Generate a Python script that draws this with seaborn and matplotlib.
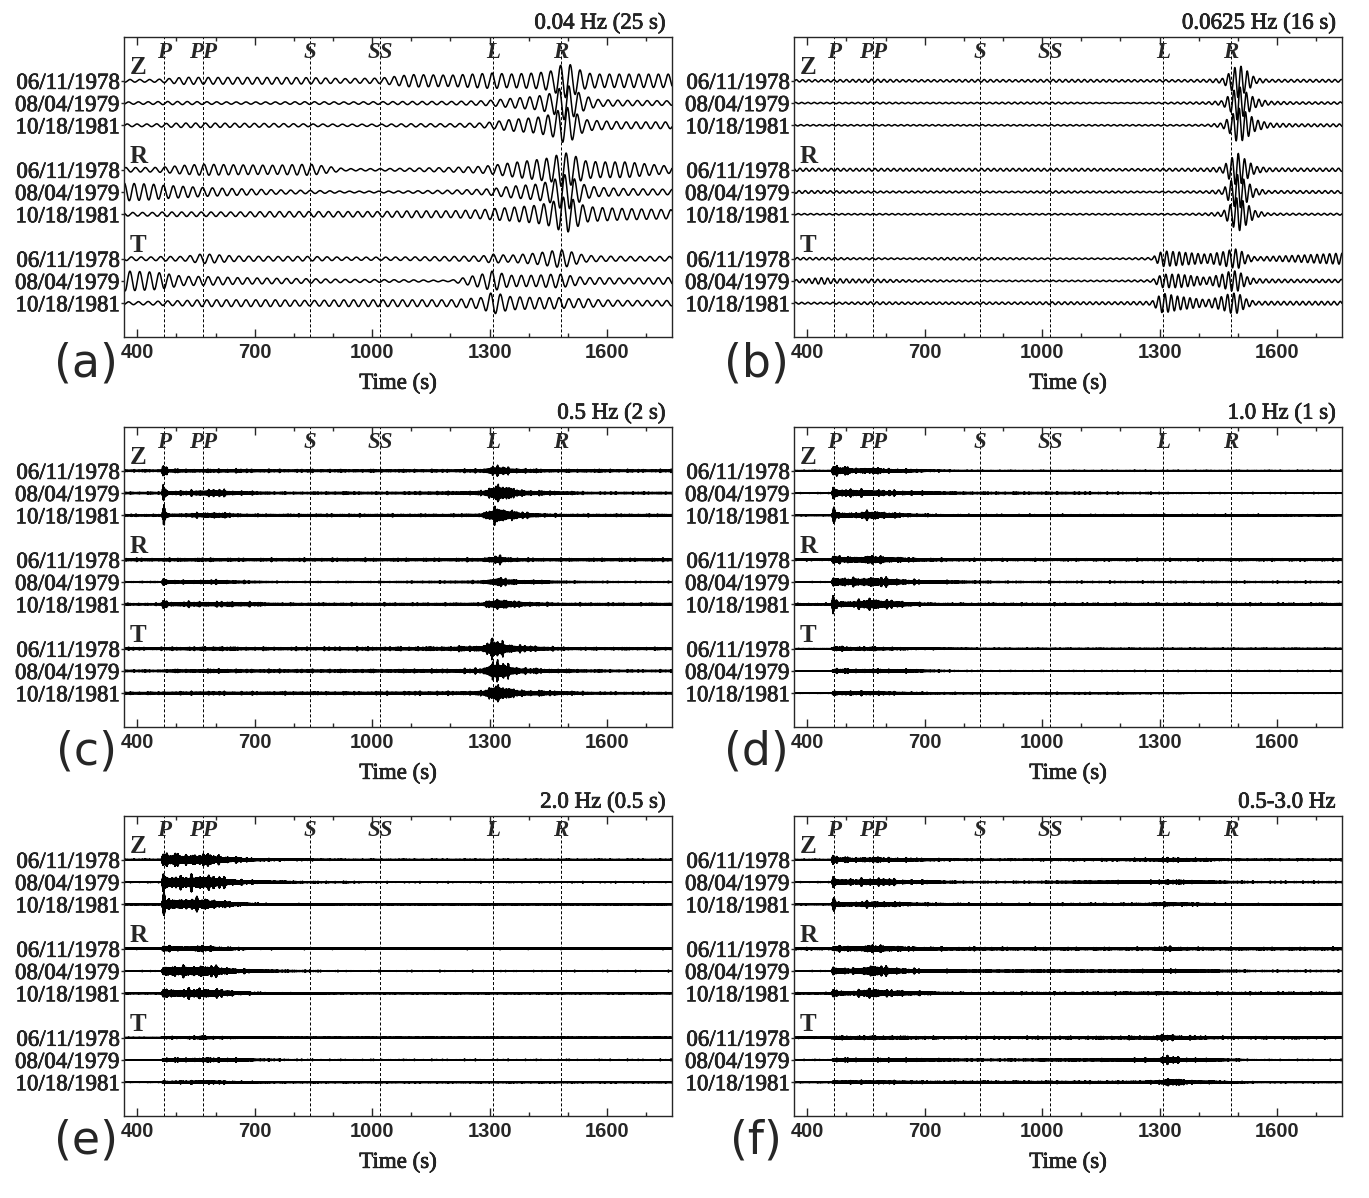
import numpy as np
import pandas as pd
import seaborn as sns
import matplotlib.pyplot as plt
import matplotlib.patheffects as pe
import matplotlib.transforms as mtransforms
from matplotlib.ticker import MultipleLocator

sns.set_style("ticks")
plt.rcParams['font.family'] = ['Liberation Serif', 'DejaVu Serif']

# labels and layout data
dates = ["06/11/1978", "08/04/1979", "10/18/1981"]
components = ["Z", "R", "T"]
phases = ["P", "PP", "S", "SS", "L", "R"]
phase_times = [467, 568, 841, 1021, 1308, 1482]
titles = ["0.04 Hz (25 s)", "0.0625 Hz (16 s)", "0.5 Hz (2 s)",
          "1.0 Hz (1 s)", "2.0 Hz (0.5 s)", "0.5-3.0 Hz"]
letters = ["(a)", "(b)", "(c)", "(d)", "(e)", "(f)"]
band_hz = [0.04, 0.0625, 0.5, 1.0, 2.0, 1.3]
offsets = [0, -1, -2, -4, -5, -6, -8, -9, -10]

# envelope knots (s)
knots_low = [365, 440, 466, 520, 568, 650, 750, 841, 930, 1021, 1100, 1200,
             1280, 1308, 1350, 1420, 1460, 1482, 1500, 1520, 1545, 1580, 1650, 1766]
knots_high = [365, 462, 466, 470, 480, 520, 568, 600, 650, 700, 760, 841, 930,
              1021, 1100, 1200, 1280, 1305, 1320, 1345, 1380, 1440, 1482, 1550, 1650, 1766]

# envelope amplitudes, rows: Z x3, R x3, T x3 (trace spacing = 1)
env_a = [
    [0.06, 0.06, 0.08, 0.16, 0.15, 0.15, 0.15, 0.14, 0.10, 0.12, 0.28, 0.25, 0.32, 0.35, 0.30, 0.35, 0.45, 0.70, 0.78, 0.60, 0.35, 0.30, 0.30, 0.30],
    [0.05, 0.06, 0.07, 0.07, 0.06, 0.05, 0.05, 0.06, 0.05, 0.06, 0.07, 0.07, 0.10, 0.13, 0.20, 0.30, 0.45, 0.70, 0.80, 0.55, 0.30, 0.15, 0.12, 0.10],
    [0.06, 0.06, 0.08, 0.10, 0.10, 0.09, 0.08, 0.06, 0.05, 0.05, 0.07, 0.07, 0.10, 0.15, 0.25, 0.35, 0.50, 0.75, 0.80, 0.55, 0.25, 0.20, 0.15, 0.15],
    [0.10, 0.10, 0.12, 0.20, 0.25, 0.22, 0.20, 0.25, 0.05, 0.05, 0.07, 0.10, 0.15, 0.20, 0.30, 0.45, 0.55, 0.75, 0.75, 0.60, 0.40, 0.35, 0.35, 0.15],
    [0.40, 0.35, 0.30, 0.25, 0.20, 0.15, 0.10, 0.07, 0.04, 0.04, 0.05, 0.08, 0.12, 0.15, 0.25, 0.35, 0.50, 0.75, 0.80, 0.55, 0.30, 0.20, 0.15, 0.12],
    [0.08, 0.08, 0.10, 0.10, 0.10, 0.10, 0.12, 0.12, 0.12, 0.12, 0.15, 0.15, 0.20, 0.25, 0.30, 0.40, 0.55, 0.75, 0.80, 0.60, 0.35, 0.30, 0.25, 0.20],
    [0.08, 0.08, 0.10, 0.10, 0.22, 0.12, 0.10, 0.10, 0.07, 0.07, 0.08, 0.10, 0.12, 0.20, 0.15, 0.25, 0.35, 0.40, 0.35, 0.25, 0.15, 0.12, 0.10, 0.10],
    [0.45, 0.40, 0.35, 0.20, 0.20, 0.15, 0.12, 0.10, 0.07, 0.06, 0.05, 0.03, 0.30, 0.45, 0.25, 0.25, 0.30, 0.30, 0.25, 0.20, 0.15, 0.15, 0.12, 0.15],
    [0.06, 0.08, 0.10, 0.12, 0.15, 0.15, 0.15, 0.12, 0.15, 0.15, 0.15, 0.15, 0.25, 0.50, 0.30, 0.25, 0.25, 0.25, 0.20, 0.20, 0.20, 0.15, 0.12, 0.12],
]
env_b = [
    [0.05, 0.05, 0.05, 0.06, 0.07, 0.05, 0.05, 0.06, 0.05, 0.06, 0.06, 0.05, 0.05, 0.05, 0.05, 0.06, 0.10, 0.40, 0.75, 0.50, 0.12, 0.06, 0.06, 0.06],
    [0.03, 0.03, 0.03, 0.03, 0.04, 0.03, 0.03, 0.03, 0.04, 0.04, 0.03, 0.02, 0.03, 0.03, 0.04, 0.05, 0.10, 0.40, 0.80, 0.50, 0.20, 0.08, 0.05, 0.05],
    [0.03, 0.03, 0.03, 0.03, 0.03, 0.03, 0.03, 0.03, 0.03, 0.03, 0.03, 0.03, 0.03, 0.03, 0.03, 0.04, 0.10, 0.40, 0.80, 0.60, 0.25, 0.10, 0.06, 0.06],
    [0.07, 0.06, 0.06, 0.06, 0.06, 0.06, 0.06, 0.06, 0.06, 0.06, 0.06, 0.05, 0.05, 0.06, 0.06, 0.07, 0.12, 0.50, 0.75, 0.45, 0.15, 0.08, 0.07, 0.07],
    [0.06, 0.06, 0.05, 0.05, 0.04, 0.04, 0.04, 0.04, 0.03, 0.05, 0.04, 0.04, 0.03, 0.03, 0.04, 0.05, 0.10, 0.50, 0.80, 0.50, 0.15, 0.06, 0.06, 0.06],
    [0.03, 0.03, 0.03, 0.03, 0.03, 0.03, 0.03, 0.03, 0.03, 0.03, 0.03, 0.03, 0.03, 0.03, 0.03, 0.05, 0.10, 0.45, 0.80, 0.50, 0.15, 0.05, 0.04, 0.04],
    [0.05, 0.05, 0.05, 0.04, 0.04, 0.03, 0.05, 0.05, 0.04, 0.03, 0.03, 0.03, 0.05, 0.35, 0.30, 0.20, 0.30, 0.40, 0.45, 0.20, 0.08, 0.10, 0.15, 0.25],
    [0.05, 0.15, 0.10, 0.08, 0.08, 0.05, 0.04, 0.03, 0.03, 0.03, 0.03, 0.03, 0.05, 0.30, 0.30, 0.15, 0.30, 0.45, 0.45, 0.20, 0.10, 0.08, 0.07, 0.07],
    [0.04, 0.04, 0.04, 0.05, 0.06, 0.05, 0.05, 0.05, 0.05, 0.06, 0.06, 0.06, 0.08, 0.45, 0.30, 0.15, 0.30, 0.45, 0.45, 0.20, 0.08, 0.08, 0.08, 0.08],
]
env_c = [
    [0.05, 0.05, 0.45, 0.30, 0.08, 0.08, 0.07, 0.08, 0.08, 0.07, 0.06, 0.06, 0.06, 0.06, 0.06, 0.06, 0.08, 0.20, 0.25, 0.15, 0.10, 0.07, 0.06, 0.07, 0.06, 0.06],
    [0.05, 0.05, 0.45, 0.30, 0.10, 0.10, 0.15, 0.18, 0.10, 0.07, 0.05, 0.05, 0.06, 0.05, 0.06, 0.07, 0.10, 0.30, 0.50, 0.30, 0.15, 0.10, 0.08, 0.05, 0.05, 0.05],
    [0.05, 0.05, 0.45, 0.30, 0.08, 0.08, 0.12, 0.15, 0.08, 0.06, 0.06, 0.06, 0.06, 0.06, 0.06, 0.06, 0.08, 0.30, 0.45, 0.30, 0.15, 0.08, 0.06, 0.06, 0.06, 0.06],
    [0.07, 0.07, 0.10, 0.08, 0.07, 0.08, 0.08, 0.08, 0.07, 0.07, 0.07, 0.07, 0.07, 0.07, 0.07, 0.07, 0.08, 0.15, 0.20, 0.12, 0.08, 0.07, 0.07, 0.07, 0.07, 0.07],
    [0.03, 0.03, 0.30, 0.20, 0.08, 0.08, 0.10, 0.10, 0.07, 0.05, 0.03, 0.03, 0.03, 0.03, 0.04, 0.05, 0.06, 0.15, 0.25, 0.15, 0.10, 0.08, 0.05, 0.04, 0.03, 0.03],
    [0.05, 0.05, 0.35, 0.25, 0.10, 0.12, 0.12, 0.12, 0.12, 0.10, 0.06, 0.06, 0.06, 0.06, 0.06, 0.06, 0.07, 0.20, 0.30, 0.20, 0.12, 0.08, 0.06, 0.06, 0.06, 0.06],
    [0.06, 0.06, 0.06, 0.06, 0.07, 0.08, 0.08, 0.10, 0.08, 0.07, 0.07, 0.07, 0.08, 0.08, 0.09, 0.10, 0.15, 0.40, 0.45, 0.25, 0.15, 0.10, 0.07, 0.06, 0.06, 0.06],
    [0.05, 0.05, 0.06, 0.06, 0.07, 0.07, 0.08, 0.10, 0.07, 0.07, 0.07, 0.07, 0.07, 0.07, 0.08, 0.08, 0.12, 0.40, 0.50, 0.30, 0.15, 0.10, 0.08, 0.06, 0.05, 0.05],
    [0.06, 0.06, 0.06, 0.06, 0.07, 0.07, 0.08, 0.08, 0.07, 0.07, 0.07, 0.07, 0.07, 0.07, 0.08, 0.08, 0.10, 0.35, 0.50, 0.25, 0.15, 0.12, 0.10, 0.06, 0.05, 0.05],
]
env_d = [
    [0.02, 0.02, 0.35, 0.30, 0.22, 0.12, 0.15, 0.10, 0.08, 0.05, 0.03, 0.02, 0.02, 0.02, 0.02, 0.02, 0.02, 0.02, 0.02, 0.02, 0.02, 0.02, 0.02, 0.02, 0.02, 0.02],
    [0.02, 0.02, 0.30, 0.25, 0.20, 0.15, 0.15, 0.12, 0.10, 0.07, 0.05, 0.04, 0.04, 0.04, 0.04, 0.03, 0.03, 0.03, 0.03, 0.02, 0.02, 0.02, 0.02, 0.02, 0.02, 0.02],
    [0.02, 0.02, 0.35, 0.25, 0.15, 0.12, 0.22, 0.15, 0.08, 0.06, 0.04, 0.04, 0.04, 0.04, 0.04, 0.04, 0.04, 0.04, 0.04, 0.04, 0.04, 0.04, 0.04, 0.04, 0.03, 0.03],
    [0.04, 0.04, 0.30, 0.20, 0.15, 0.15, 0.20, 0.15, 0.10, 0.07, 0.06, 0.05, 0.05, 0.05, 0.05, 0.05, 0.05, 0.05, 0.05, 0.05, 0.05, 0.05, 0.05, 0.05, 0.05, 0.05],
    [0.02, 0.02, 0.35, 0.25, 0.20, 0.18, 0.25, 0.20, 0.12, 0.08, 0.06, 0.04, 0.03, 0.03, 0.03, 0.03, 0.03, 0.03, 0.03, 0.03, 0.03, 0.03, 0.03, 0.03, 0.03, 0.03],
    [0.04, 0.04, 0.80, 0.30, 0.15, 0.15, 0.30, 0.20, 0.12, 0.06, 0.05, 0.05, 0.05, 0.05, 0.05, 0.05, 0.05, 0.05, 0.05, 0.05, 0.05, 0.05, 0.05, 0.05, 0.05, 0.05],
    [0.01, 0.01, 0.10, 0.12, 0.10, 0.08, 0.08, 0.07, 0.05, 0.04, 0.03, 0.02, 0.02, 0.02, 0.02, 0.02, 0.02, 0.02, 0.02, 0.02, 0.02, 0.02, 0.02, 0.02, 0.02, 0.02],
    [0.01, 0.01, 0.10, 0.12, 0.12, 0.08, 0.10, 0.07, 0.08, 0.05, 0.03, 0.02, 0.02, 0.02, 0.02, 0.02, 0.02, 0.02, 0.02, 0.02, 0.02, 0.02, 0.02, 0.02, 0.02, 0.02],
    [0.01, 0.01, 0.08, 0.12, 0.10, 0.08, 0.10, 0.07, 0.05, 0.04, 0.03, 0.03, 0.03, 0.03, 0.03, 0.03, 0.02, 0.02, 0.02, 0.02, 0.01, 0.01, 0.01, 0.01, 0.01, 0.01],
]
env_e = [
    [0.02, 0.02, 0.50, 0.35, 0.30, 0.25, 0.30, 0.22, 0.12, 0.06, 0.04, 0.03, 0.02, 0.02, 0.02, 0.02, 0.02, 0.02, 0.02, 0.02, 0.02, 0.02, 0.02, 0.02, 0.02, 0.02],
    [0.02, 0.02, 0.50, 0.40, 0.35, 0.30, 0.40, 0.30, 0.15, 0.07, 0.05, 0.03, 0.03, 0.02, 0.02, 0.02, 0.02, 0.02, 0.02, 0.02, 0.02, 0.02, 0.02, 0.02, 0.02, 0.02],
    [0.02, 0.02, 0.50, 0.35, 0.30, 0.25, 0.30, 0.20, 0.10, 0.05, 0.03, 0.03, 0.02, 0.02, 0.02, 0.02, 0.02, 0.02, 0.02, 0.02, 0.02, 0.02, 0.02, 0.02, 0.02, 0.02],
    [0.03, 0.03, 0.20, 0.15, 0.12, 0.10, 0.15, 0.10, 0.06, 0.04, 0.03, 0.03, 0.03, 0.03, 0.03, 0.03, 0.03, 0.03, 0.03, 0.03, 0.03, 0.03, 0.03, 0.03, 0.03, 0.03],
    [0.02, 0.02, 0.30, 0.28, 0.25, 0.25, 0.30, 0.25, 0.12, 0.06, 0.04, 0.03, 0.02, 0.02, 0.02, 0.02, 0.02, 0.02, 0.02, 0.02, 0.02, 0.02, 0.02, 0.02, 0.02, 0.02],
    [0.02, 0.02, 0.30, 0.25, 0.20, 0.20, 0.25, 0.20, 0.10, 0.05, 0.03, 0.03, 0.02, 0.02, 0.02, 0.02, 0.02, 0.02, 0.02, 0.02, 0.02, 0.02, 0.02, 0.02, 0.02, 0.02],
    [0.01, 0.01, 0.06, 0.06, 0.05, 0.05, 0.08, 0.06, 0.04, 0.03, 0.02, 0.02, 0.02, 0.02, 0.02, 0.02, 0.02, 0.02, 0.02, 0.02, 0.02, 0.02, 0.02, 0.02, 0.02, 0.02],
    [0.01, 0.01, 0.08, 0.08, 0.08, 0.08, 0.10, 0.10, 0.08, 0.04, 0.03, 0.02, 0.02, 0.02, 0.02, 0.02, 0.02, 0.02, 0.02, 0.02, 0.02, 0.02, 0.02, 0.02, 0.02, 0.02],
    [0.01, 0.01, 0.06, 0.06, 0.06, 0.06, 0.08, 0.07, 0.05, 0.03, 0.02, 0.02, 0.02, 0.02, 0.02, 0.02, 0.02, 0.02, 0.02, 0.02, 0.02, 0.02, 0.02, 0.02, 0.02, 0.02],
]
env_f = [
    [0.02, 0.02, 0.40, 0.20, 0.12, 0.10, 0.12, 0.10, 0.08, 0.06, 0.04, 0.03, 0.03, 0.04, 0.04, 0.05, 0.06, 0.08, 0.10, 0.08, 0.07, 0.05, 0.03, 0.03, 0.03, 0.03],
    [0.02, 0.02, 0.30, 0.20, 0.15, 0.12, 0.20, 0.15, 0.10, 0.08, 0.04, 0.03, 0.03, 0.04, 0.05, 0.06, 0.07, 0.10, 0.12, 0.10, 0.07, 0.05, 0.04, 0.03, 0.03, 0.03],
    [0.02, 0.02, 0.30, 0.20, 0.12, 0.10, 0.15, 0.12, 0.08, 0.06, 0.05, 0.04, 0.04, 0.04, 0.05, 0.05, 0.06, 0.08, 0.10, 0.08, 0.07, 0.05, 0.03, 0.03, 0.03, 0.03],
    [0.05, 0.05, 0.15, 0.12, 0.12, 0.12, 0.18, 0.15, 0.10, 0.08, 0.07, 0.07, 0.06, 0.06, 0.06, 0.06, 0.06, 0.10, 0.10, 0.08, 0.06, 0.06, 0.06, 0.06, 0.06, 0.06],
    [0.02, 0.02, 0.35, 0.20, 0.15, 0.12, 0.30, 0.20, 0.12, 0.08, 0.06, 0.05, 0.05, 0.05, 0.05, 0.05, 0.06, 0.08, 0.10, 0.07, 0.06, 0.05, 0.04, 0.03, 0.03, 0.03],
    [0.03, 0.03, 0.30, 0.20, 0.12, 0.10, 0.25, 0.15, 0.12, 0.08, 0.05, 0.04, 0.05, 0.05, 0.05, 0.06, 0.06, 0.07, 0.07, 0.06, 0.05, 0.05, 0.05, 0.05, 0.05, 0.05],
    [0.03, 0.03, 0.08, 0.08, 0.08, 0.08, 0.08, 0.08, 0.07, 0.06, 0.05, 0.05, 0.05, 0.06, 0.06, 0.07, 0.08, 0.12, 0.14, 0.10, 0.08, 0.06, 0.05, 0.05, 0.05, 0.04],
    [0.02, 0.02, 0.07, 0.08, 0.08, 0.08, 0.08, 0.08, 0.07, 0.06, 0.05, 0.04, 0.04, 0.05, 0.05, 0.06, 0.08, 0.12, 0.20, 0.12, 0.08, 0.06, 0.04, 0.02, 0.02, 0.02],
    [0.02, 0.02, 0.06, 0.07, 0.07, 0.07, 0.07, 0.07, 0.06, 0.05, 0.05, 0.05, 0.05, 0.05, 0.05, 0.05, 0.06, 0.10, 0.20, 0.15, 0.08, 0.06, 0.04, 0.02, 0.02, 0.02],
]

panel_env = [env_a, env_b, env_c, env_d, env_e, env_f]
panel_knots = [knots_low, knots_low, knots_high, knots_high, knots_high, knots_high]

t = np.arange(366, 1766, 0.1)


def wiggle(knots, env, freq, k):
    amp = np.interp(t, knots, env)
    ph = 0.9 * k
    carrier = np.sin(2 * np.pi * freq * t + ph)
    if freq > 0.1:
        # irregular, spiky swelling of the band-passed signal
        slow = (np.sin(2 * np.pi * 0.067 * t + ph) + np.sin(2 * np.pi * 0.041 * t + 2 * ph)
                + np.sin(2 * np.pi * 0.113 * t + 3 * ph) + np.sin(2 * np.pi * 0.029 * t + 4 * ph))
        slow = np.abs(slow) / np.abs(slow).max()
        carrier = carrier * (0.5 + 0.8 * slow ** 2)
    return amp * carrier


fig = plt.figure(figsize=(13.69, 11.98), dpi=100)

col_left = [124 / 1369, 794 / 1369]
row_bottom = [1 - 337 / 1198, 1 - 727 / 1198, 1 - 1116 / 1198]
ax_w, ax_h = 548 / 1369, 300 / 1198
letter_xy = [(86, 364), (756, 364), (86, 752), (756, 752), (86, 1141), (756, 1141)]
heavy = [pe.withStroke(linewidth=0.5, foreground="black")]

for i in range(6):
    ax = fig.add_axes([col_left[i % 2], row_bottom[i // 2], ax_w, ax_h])
    frames = []
    for k in range(9):
        y = wiggle(panel_knots[i], panel_env[i][k], band_hz[i], k) + offsets[k]
        frames.append(pd.DataFrame({"t": t, "y": y, "trace": k}))
    df = pd.concat(frames, ignore_index=True)
    sns.lineplot(data=df, x="t", y="y", units="trace", estimator=None,
                 sort=False, color="black", lw=1.1, ax=ax, legend=False)

    for pt, name in zip(phase_times, phases):
        ax.axvline(pt, color="black", lw=0.7, ls=(0, (3.1, 2.1)), zorder=1)
        ax.text(pt, 0.95, name, transform=ax.get_xaxis_transform(),
                ha="center", va="center", fontsize=16.5, fontstyle="italic",
                fontweight="bold")

    mixed = mtransforms.blended_transform_factory(ax.transAxes, ax.transData)
    for j, comp in enumerate(components):
        ax.text(0.01, offsets[3 * j] + 0.58, comp, transform=mixed,
                ha="left", va="center", fontsize=18, fontweight="bold")

    ax.set_xlim(366, 1766)
    ax.set_ylim(-11.52, 1.97)
    ax.xaxis.set_minor_locator(MultipleLocator(100))
    ax.set_xticks([400, 700, 1000, 1300, 1600])
    ax.tick_params(axis="x", which="both", direction="in", top=True, bottom=True,
                   labelsize=14.5, pad=4, width=1.0)
    ax.tick_params(axis="x", which="major", length=6)
    ax.tick_params(axis="x", which="minor", length=3)
    for lab in ax.get_xticklabels():
        lab.set_fontfamily("Liberation Sans")
        lab.set_fontweight("bold")
    ax.set_yticks(offsets)
    ax.set_yticklabels(dates * 3)
    ax.tick_params(axis="y", direction="out", length=2, width=1.0, pad=1.5,
                   labelsize=16.5)
    for lab in ax.get_yticklabels():
        lab.set_path_effects(heavy)
    for s in ax.spines.values():
        s.set_visible(True)
        s.set_linewidth(1.0)
    ax.set_xlabel("Time (s)", fontsize=16.5, labelpad=8, path_effects=heavy)
    ax.set_ylabel("")
    ttl = ax.set_title(titles[i], loc="right", fontsize=16.5, pad=6, path_effects=heavy)
    ttl.set_x(0.988)

    lx, ly = letter_xy[i]
    fig.text(lx / 1369, 1 - ly / 1198, letters[i], ha="center", va="center",
             fontsize=33, fontfamily="DejaVu Sans")

fig.savefig("out.png", dpi=100)
